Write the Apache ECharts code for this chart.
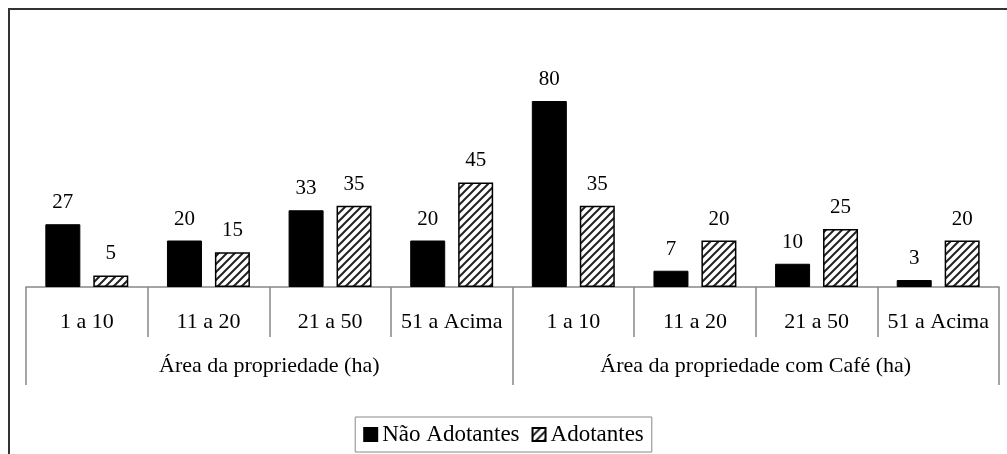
<!DOCTYPE html>
<html>
<head>
<meta charset="utf-8">
<script src="https://cdn.jsdelivr.net/npm/echarts@6/dist/echarts.min.js"></script>
<style>
html,body{margin:0;padding:0;background:#fff;}
#frame{position:absolute;left:8px;top:8px;width:999px;height:446px;border-left:2px solid #333;border-top:2px solid #333;box-sizing:border-box;}
#chart{position:absolute;left:0;top:0;width:1007px;height:454px;}
</style>
</head>
<body>
<div id="frame"></div>
<div id="chart"></div>
<script>
const categories = ['1 a 10','11 a 20','21 a 50','51 a Acima','1 a 10','11 a 20','21 a 50','51 a Acima'];
const groups = ['Área da propriedade (ha)','Área da propriedade com Café (ha)'];
const seriesNames = ['Não Adotantes','Adotantes'];
const naoAdotantes = [27,20,33,20,80,7,10,3];
const adotantes = [5,15,35,45,35,20,25,20];

const FONT = "'Liberation Serif','Times New Roman',serif";

const tile = document.createElement('canvas');
tile.width = 8; tile.height = 8;
const c = tile.getContext('2d');
c.fillStyle = '#fff'; c.fillRect(0,0,8,8);
c.strokeStyle = '#222'; c.lineWidth = 2;
c.beginPath();
c.moveTo(0,8); c.lineTo(8,0);
c.moveTo(-4,4); c.lineTo(4,-4);
c.moveTo(4,12); c.lineTo(12,4);
c.stroke();

const chart = echarts.init(document.getElementById('chart'), null, {renderer:'canvas'});
const labelCfg = {show:true, position:'top', distance:11, color:'#000', fontFamily:FONT, fontSize:21};
chart.setOption({
  animation:false,
  backgroundColor:'transparent',
  grid:{left:26, right:8, top:101, bottom:167},
  legend:{
    bottom:2, left:'center',
    data:seriesNames,
    icon:'rect', itemWidth:13, itemHeight:13, itemGap:12,
    borderColor:'#888', borderWidth:1, padding:[6,8,6,8],
    textStyle:{fontFamily:FONT, fontSize:23, color:'#000'}
  },
  xAxis:[{
    type:'category', data:categories, position:'bottom',
    axisLine:{show:true, lineStyle:{color:'#888', width:1.5}},
    axisTick:{show:true, interval:0, length:50, lineStyle:{color:'#888', width:1.5}},
    axisLabel:{interval:0, margin:24, color:'#000', fontFamily:FONT, fontSize:22},
    splitLine:{show:false}
  },{
    type:'category', data:groups, position:'bottom', offset:0,
    axisLine:{show:false},
    axisTick:{show:true, interval:0, length:98, lineStyle:{color:'#888', width:1.5}},
    axisLabel:{interval:0, margin:68, color:'#000', fontFamily:FONT, fontSize:22},
    splitLine:{show:false}
  }],
  yAxis:{type:'value', min:0, max:80, show:false, splitLine:{show:false}},
  series:[{
    name:seriesNames[0], type:'bar', data:naoAdotantes,
    barWidth:35, barGap:'37%',
    itemStyle:{color:'#000', borderColor:'#000', borderWidth:1},
    label:labelCfg
  },{
    name:seriesNames[1], type:'bar', data:adotantes,
    barWidth:35,
    itemStyle:{color:{image:tile, repeat:'repeat'}, borderColor:'#000', borderWidth:1.5},
    label:labelCfg
  }]
});
</script>
</body>
</html>
